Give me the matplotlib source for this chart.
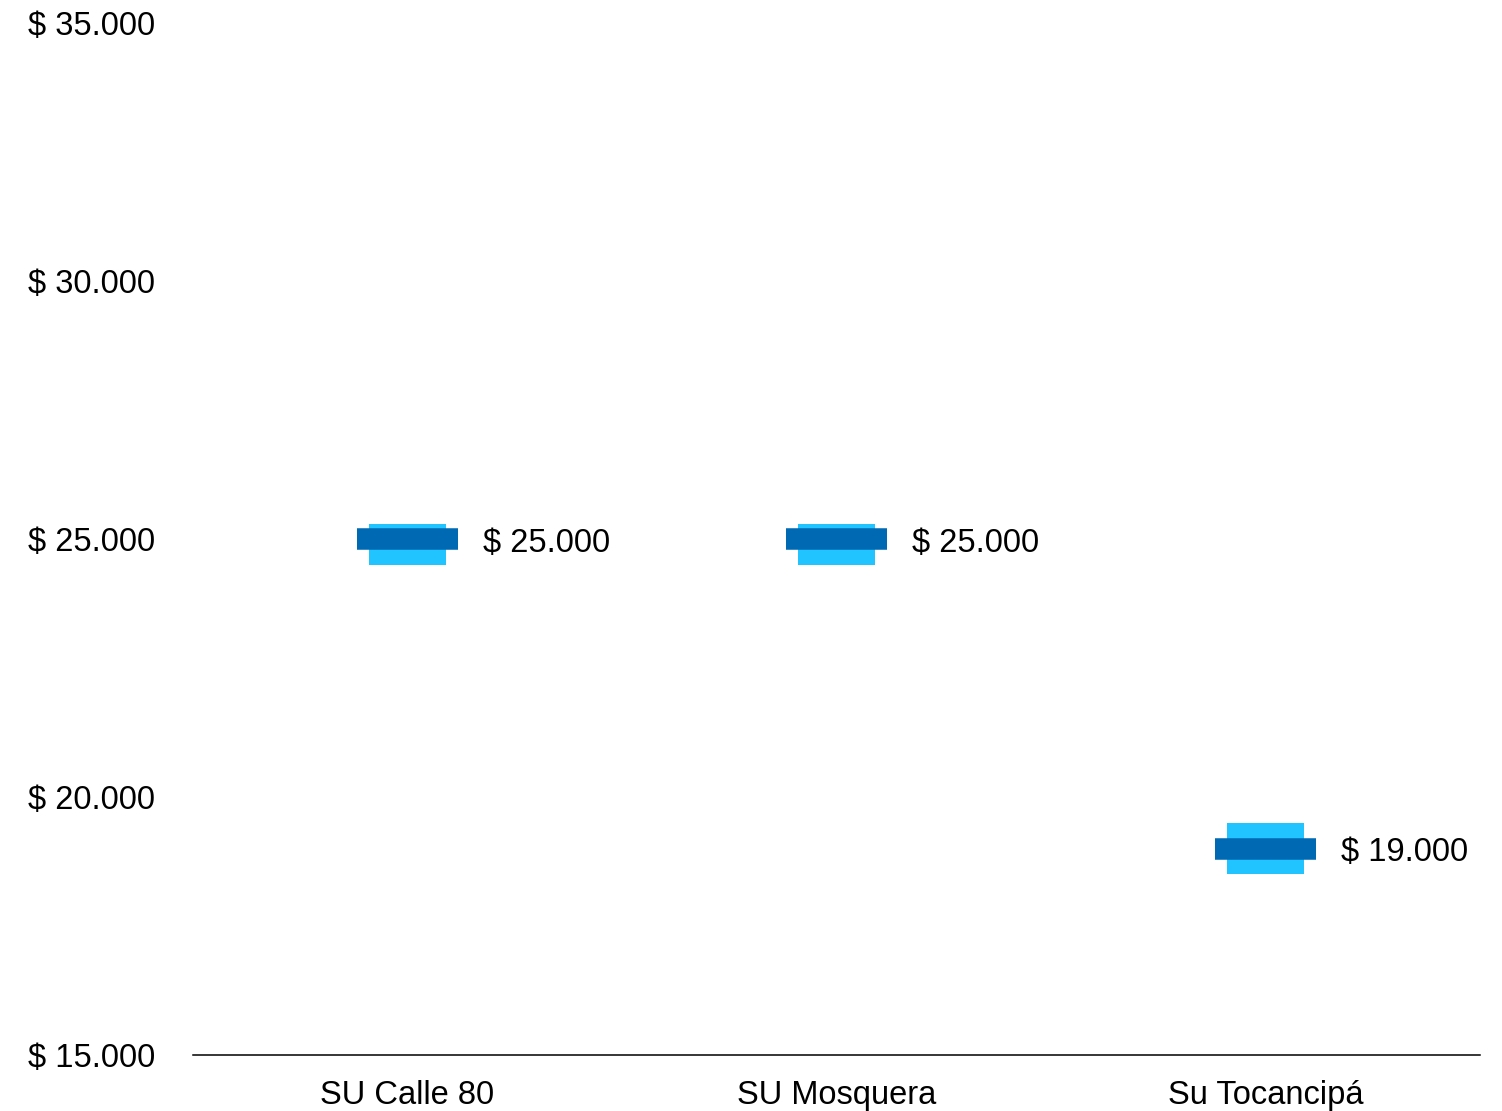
import matplotlib.pyplot as plt
import numpy as np

plt.rcParams['font.family'] = ['Liberation Sans', 'DejaVu Sans']

# price range per site: low / high of the box and the median line
sites = ['SU Calle 80', 'SU Mosquera', 'Su Tocancipá']
low = [24500, 24500, 18500]
high = [25300, 25300, 19500]
median = [25000, 25000, 19000]
yticks = [15000, 20000, 25000, 30000, 35000]


def money(v):
    return '$ ' + f'{v:,.0f}'.replace(',', '.')


fig = plt.figure(figsize=(15.02, 11.11), dpi=100)
ax = fig.add_axes([0.1285, 0.0504, 0.857, 0.9289])

x = np.arange(len(sites))
light = '#22C4FF'
dark = '#0069B4'
fs = 23.5

# range box
ax.bar(x, np.array(high) - np.array(low), bottom=low, width=0.18,
       color=light, edgecolor='none', zorder=2)
# median bar
ax.hlines(median, x - 0.117, x + 0.117, colors=dark, linewidth=15.5,
          zorder=3)

for xi, m in zip(x, median):
    ax.text(xi + 0.175, m - 80, money(m), va='center', ha='left',
            fontsize=fs, color='black')

ax.set_xlim(-0.5, len(sites) - 0.5)
ax.set_ylim(15000, 35000)
ax.set_xticks(x)
ax.set_xticklabels(sites, fontsize=fs)
ax.set_yticks(yticks)
ax.set_yticklabels([money(v) for v in yticks], fontsize=fs)
ax.tick_params(axis='both', length=0)
ax.tick_params(axis='y', pad=27.5)
ax.tick_params(axis='x', pad=18)

for s in ['top', 'right', 'left']:
    ax.spines[s].set_visible(False)
ax.spines['bottom'].set_linewidth(1.1)
ax.spines['bottom'].set_color('black')

fig.savefig('out.png', dpi=100)
